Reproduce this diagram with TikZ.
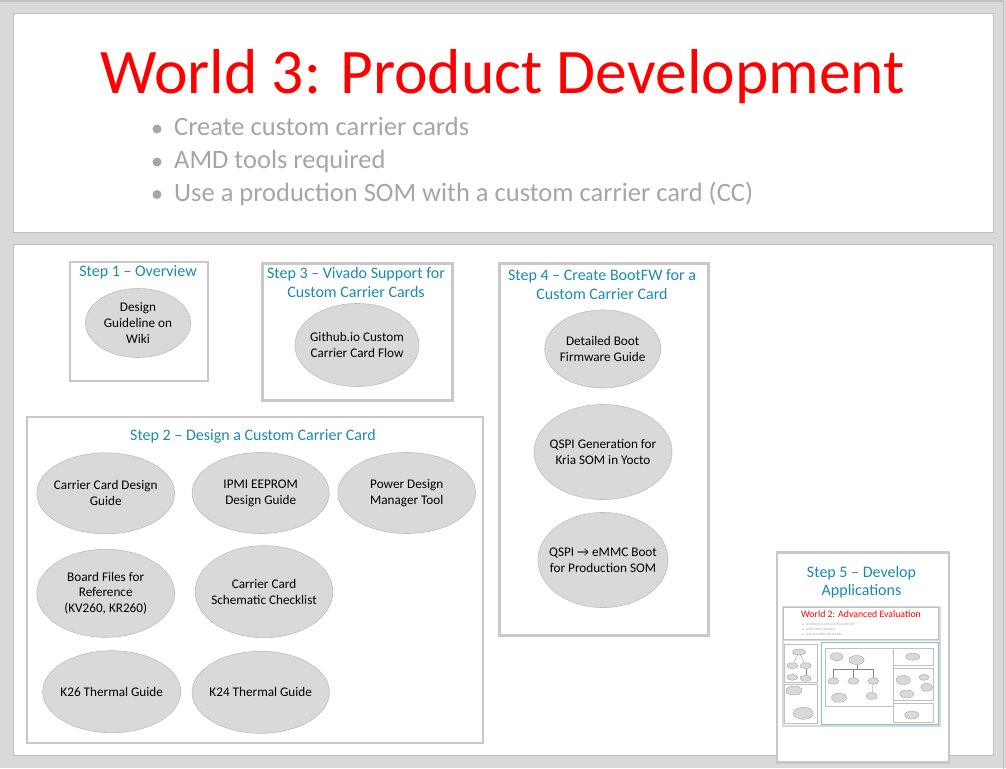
\documentclass[tikz,border=0pt]{standalone}
\usepackage{fontspec}
\setmainfont{Carlito}
\usetikzlibrary{shapes.geometric}
\definecolor{framefill}{HTML}{D9D9D9}
\definecolor{frameline}{HTML}{BFBFBF}
\definecolor{boxline}{HTML}{C8C8C8}
\definecolor{ellfill}{HTML}{D9D9D9}
\definecolor{ellline}{HTML}{BDBDBD}
\definecolor{stepteal}{HTML}{1A8BB3}
\definecolor{bulletgray}{HTML}{A6A6A6}
\definecolor{thumbteal}{HTML}{7CC3D6}
\tikzset{
  panel/.style={draw=frameline, line width=1.2, fill=white, inner sep=0, minimum width=#1},
  stepbox/.style={draw=boxline, line width=2.6, fill=white, inner sep=0},
  item/.style={ellipse, draw=ellline, fill=ellfill, line width=0.6, inner sep=0},
  itemtext/.style={align=center, inner sep=0, font=\fontsize{13.2}{15.7}\selectfont},
  steptitle/.style={text=stepteal, font=\fontsize{16}{19}\selectfont, anchor=base, inner sep=0},
  bullettext/.style={text=bulletgray, font=\fontsize{26.5}{30}\selectfont, anchor=base west, inner sep=0},
  bulletdot/.style={circle, fill=bulletgray, inner sep=0, minimum size=9},
  tbox/.style={draw=frameline, line width=0.5, fill=white, inner sep=0},
  tell/.style={ellipse, draw=ellline!80!black, fill=ellfill, line width=0.3, inner sep=0},
  tbul/.style={text=bulletgray, font=\fontsize{3.6}{4}\selectfont, anchor=base west, inner sep=0},
  tdot/.style={circle, fill=bulletgray, inner sep=0, minimum size=1.4},
  tline/.style={draw=ellline!70!black, line width=0.3}
}
\begin{document}
\begin{tikzpicture}[x=1pt,y=-1pt]
\useasboundingbox (0,0) rectangle (1006,768);
% outer frame
\fill[framefill] (0,0) rectangle (1006,768);
\draw[frameline, line width=1.2] (-2,1) -- (1003.5,1) -- (1003.5,770);
% panels
\node (toppanel) [panel=980, minimum height=219, anchor=north west] at (13,13) {};
\node (botpanel) [panel=980, minimum height=511, anchor=north west] at (13,244) {};

% title
\node (title) [anchor=base, inner sep=0, text={rgb,255:red,255;green,0;blue,0},
  font=\fontsize{63.5}{70}\selectfont] at (502.5,93) {World 3: Product Development};
\node (d1) [bulletdot] at (157,129) {};
\node (b1) [bullettext] at (174,135.5) {Create custom carrier cards};
\node (d2) [bulletdot] at (157,162) {};
\node (b2) [bullettext] at (174,168.3) {AMD tools required};
\node (d3) [bulletdot] at (157,194.5) {};
\node (b3) [bullettext] at (174,201) {Use a production SOM with a custom carrier card (CC)};

% Step 1
\node (s1) [stepbox, minimum width=138, minimum height=119, anchor=north west] at (68.5,260.5) {};
\node (s1t) [steptitle] at (138,276.7) {Step 1 – Overview};
\node (s1a) [item, minimum width=105, minimum height=69] at (138,323) {};
\node (s1at) [itemtext] at (s1a.center) {Design\\Guideline on\\Wiki};

% Step 3
\node (s3) [stepbox, minimum width=190, minimum height=137, anchor=north west] at (261,262) {};
\node (s3t1) [steptitle] at (356,278.3) {Step 3 – Vivado Support for};
\node (s3t2) [steptitle] at (356,297.3) {Custom Carrier Cards};
\node (s3a) [item, minimum width=124, minimum height=83] at (357,345) {};
\node (s3at) [itemtext] at (s3a.center) {Github.io Custom\\Carrier Card Flow};

% Step 4
\node (s4) [stepbox, minimum width=209, minimum height=372, anchor=north west] at (498,262) {};
\node (s4t1) [steptitle] at (602,280.7) {Step 4 – Create BootFW for a};
\node (s4t2) [steptitle] at (602,299.3) {Custom Carrier Card};
\node (s4a) [item, minimum width=116, minimum height=78] at (602.7,349) {};
\node (s4at) [itemtext] at (s4a.center) {Detailed Boot\\Firmware Guide};
\node (s4b) [item, minimum width=138, minimum height=95] at (603,452) {};
\node (s4bt) [itemtext] at (s4b.center) {QSPI Generation for\\Kria SOM in Yocto};
\node (s4c) [item, minimum width=130, minimum height=95] at (603,560) {};
\node (s4ct) [itemtext] at (s4c.center) {QSPI → eMMC Boot\\for Production SOM};

% Step 2
\node (s2) [stepbox, minimum width=456, minimum height=326, anchor=north west] at (25.5,415.5) {};
\node (s2t) [steptitle] at (253,440) {Step 2 – Design a Custom Carrier Card};
\node (s2a) [item, minimum width=137.7, minimum height=81] at (105.7,493.3) {};
\node (s2at) [itemtext] at (s2a.center) {Carrier Card Design\\Guide};
\node (s2b) [item, minimum width=137, minimum height=81] at (260.7,493) {};
\node (s2bt) [itemtext] at (s2b.center) {IPMI EEPROM\\Design Guide};
\node (s2c) [item, minimum width=137.7, minimum height=81] at (406.7,493) {};
\node (s2ct) [itemtext] at (s2c.center) {Power Design\\Manager Tool};
\node (s2d) [item, minimum width=137.7, minimum height=88] at (105.7,593.3) {};
\node (s2dt) [itemtext] at (s2d.center) {Board Files for\\Reference\\(KV260, KR260)};
\node (s2e) [item, minimum width=137.7, minimum height=92] at (264,591.7) {};
\node (s2et) [itemtext] at (s2e.center) {Carrier Card\\Schematic Checklist};
\node (s2f) [item, minimum width=138, minimum height=82] at (111.7,691.7) {};
\node (s2ft) [itemtext] at (s2f.center) {K26 Thermal Guide};
\node (s2g) [item, minimum width=137.3, minimum height=82] at (260.7,692.3) {};
\node (s2gt) [itemtext] at (s2g.center) {K24 Thermal Guide};

% Step 5
\node (s5) [stepbox, minimum width=172, minimum height=210, anchor=north west] at (775.5,551) {};
\node (s5t1) [steptitle] at (861.5,577.3) {Step 5 – Develop};
\node (s5t2) [steptitle] at (861.5,595.7) {Applications};

% thumbnail
\node (th) [fill=framefill, inner sep=0, minimum width=159, minimum height=121, anchor=north west] at (781.5,605.7) {};
\node (thtop) [tbox, minimum width=155, minimum height=31.5, anchor=north west] at (783.3,607) {};
\node (thtitle) [anchor=base, inner sep=0, text={rgb,255:red,255;green,0;blue,0}, font=\fontsize{9.8}{11}\selectfont] at (861,617.7) {World 2: Advanced Evaluation};
\node (thd1) [tdot] at (803,624.4) {};
\node (thb1) [tbul] at (806,625.6) {Develop on a Kria SOM starter kit};
\node (thd2) [tdot] at (803,629.4) {};
\node (thb2) [tbul] at (806,630.6) {AMD tools required};
\node (thd3) [tdot] at (803,634.4) {};
\node (thb3) [tbul] at (806,635.6) {Use provided starter kits};
\node (thlow) [fill=white, inner sep=0, minimum width=155, minimum height=84, anchor=north west] at (783.3,641) {};
% left column
\node (tl1) [tbox, minimum width=32.7, minimum height=38, anchor=north west] at (784,644.3) {};
\node (tl2) [tbox, minimum width=32.7, minimum height=39, anchor=north west] at (784,684.3) {};
\node (tl1a) [tell, minimum width=13, minimum height=6] at (799,652) {};
\node (tl1b) [tell, minimum width=11, minimum height=6] at (792.3,665.7) {};
\node (tl1c) [tell, minimum width=11, minimum height=6] at (805.7,665.7) {};
\node (tl1d) [tell, minimum width=11, minimum height=6] at (792.3,677.3) {};
\node (tl1e) [tell, minimum width=11, minimum height=6] at (805.7,678.3) {};
\draw[tline] (tl1a) -- (tl1b);
\draw[tline] (tl1a) -- (tl1c);
\draw[tline] (tl1c) -- (tl1e);
\node (tl2a) [tell, minimum width=16, minimum height=9] at (794,690.5) {};
\node (tl2b) [tell, minimum width=20, minimum height=12] at (803.3,713.3) {};
% main teal box
\node (tm) [draw=thumbteal, line width=0.6, fill=white, inner sep=0, minimum width=116.7, minimum height=82, anchor=north west] at (821,642.3) {};
\node (tmi) [tbox, minimum width=68.3, minimum height=58.3, anchor=north west] at (825,647.7) {};
\node (tra) [tbox, minimum width=40, minimum height=17.3, anchor=north west] at (893.3,647.7) {};
\node (trb) [tbox, minimum width=40, minimum height=32.3, anchor=north west] at (893.3,667.7) {};
\node (trc) [tbox, minimum width=40, minimum height=19, anchor=north west] at (893.3,703.3) {};
\node (tm1) [tell, minimum width=13, minimum height=8] at (836.7,656.7) {};
\node (tm2) [tell, minimum width=15, minimum height=9] at (856.7,660) {};
\node (tm3) [tell, minimum width=11, minimum height=6.5] at (833.3,681) {};
\node (tm4) [tell, minimum width=11, minimum height=6.5] at (853.3,681) {};
\node (tm5) [tell, minimum width=11, minimum height=6.5] at (873.3,681) {};
\node (tm6) [tell, minimum width=15, minimum height=9] at (839,697.7) {};
\node (tm7) [tell, minimum width=11, minimum height=7] at (871.7,696) {};
\coordinate (tmj) at (856.7,669);
\draw[tline] (tm2) -- (tmj);
\draw[tline] (tmj) -| (tm3);
\draw[tline] (tmj) -| (tm4);
\draw[tline] (tmj) -| (tm5);
\draw[tline] (tm5) -- (tm7);
\node (tra1) [tell, minimum width=14, minimum height=7] at (912.7,656.7) {};
\node (trb1) [tell, minimum width=14, minimum height=9] at (903.3,680) {};
\node (trb2) [tell, minimum width=10, minimum height=6] at (924,677.3) {};
\node (trb3) [tell, minimum width=12, minimum height=8] at (926.7,687.3) {};
\node (trb4) [tell, minimum width=14, minimum height=8] at (906.7,694) {};
\node (trc1) [tell, minimum width=14, minimum height=8] at (911.7,715) {};
\end{tikzpicture}
\end{document}
